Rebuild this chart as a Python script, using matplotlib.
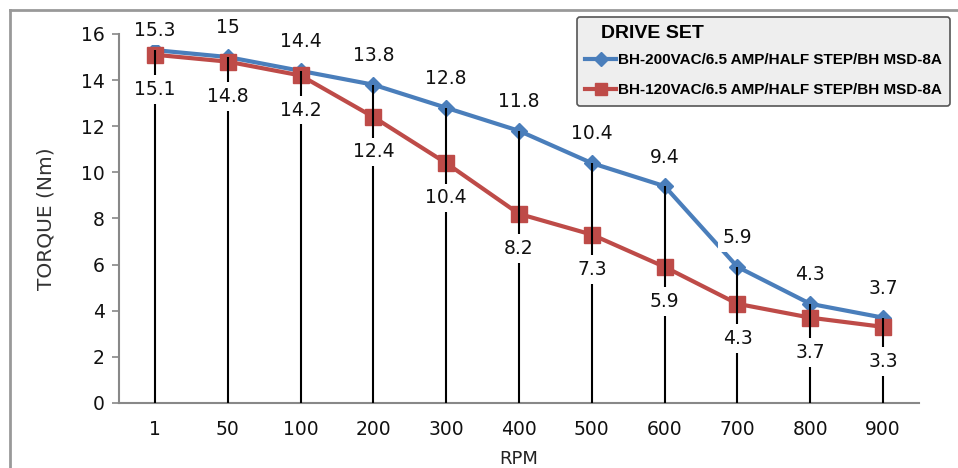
import numpy as np
import matplotlib.pyplot as plt
from matplotlib.lines import Line2D

rpm = ['1', '50', '100', '200', '300', '400', '500', '600', '700', '800', '900']
torque_200vac = [15.3, 15, 14.4, 13.8, 12.8, 11.8, 10.4, 9.4, 5.9, 4.3, 3.7]
torque_120vac = [15.1, 14.8, 14.2, 12.4, 10.4, 8.2, 7.3, 5.9, 4.3, 3.7, 3.3]
name_200 = 'BH-200VAC/6.5 AMP/HALF STEP/BH MSD-8A'
name_120 = 'BH-120VAC/6.5 AMP/HALF STEP/BH MSD-8A'

blue = '#4A7EBB'
red = '#BE4B48'

fig = plt.figure(figsize=(9.58, 4.68), dpi=100)
ax = fig.add_axes([0.1238, 0.1389, 0.836, 0.7885])

x = np.arange(len(rpm))
top = np.maximum(torque_200vac, torque_120vac)

ax.plot(x, torque_200vac, color=blue, lw=3, marker='D', ms=8, zorder=2)
ax.plot(x, torque_120vac, color=red, lw=3, marker='s', ms=12, zorder=2.1)
ax.vlines(x, 0, top, color='black', lw=1.5, zorder=3)

box = dict(boxstyle='square,pad=0.25', fc='white', ec='none')
for i, v in enumerate(torque_200vac):
    off = 14 if i == 0 else 21
    ax.annotate('%g' % v, (x[i], v), xytext=(0, off), textcoords='offset points',
                ha='center', va='center', fontsize=13.5, color='#111111', bbox=box, zorder=4)
for i, v in enumerate(torque_120vac):
    ax.annotate('%g' % v, (x[i], v), xytext=(0, -25), textcoords='offset points',
                ha='center', va='center', fontsize=13.5, color='#111111', bbox=box, zorder=4)

ax.set_xlim(-0.5, len(rpm) - 0.5)
ax.set_ylim(0, 16)
ax.set_yticks(range(0, 17, 2))
ax.set_xticks(x)
ax.set_xticklabels(rpm)
ax.tick_params(axis='x', length=0, pad=12, labelsize=13.5, labelcolor='#111111')
ax.tick_params(axis='y', length=5, color='#888888', width=1.2, pad=5, labelsize=13.5, labelcolor='#111111')
for s in ['top', 'right']:
    ax.spines[s].set_visible(False)
for s in ['left', 'bottom']:
    ax.spines[s].set_color('#888888')
    ax.spines[s].set_linewidth(1.5)

ax.set_ylabel('TORQUE (Nm)', fontsize=14.5, color='#333333', labelpad=18)
ax.set_xlabel('RPM', fontsize=13, color='#222222', labelpad=8)

handles = [Line2D([], [], color=blue, lw=3, marker='D', ms=7),
           Line2D([], [], color=red, lw=3, marker='s', ms=9)]
leg = fig.legend(handles, [name_200, name_120], loc='upper left',
                 bbox_to_anchor=(577 / 958, 1 - 17 / 468), borderaxespad=0,
                 title='DRIVE SET', alignment='left', handlelength=2.0,
                 handletextpad=0.15, borderpad=0.55, labelspacing=1.05, fancybox=True,
                 prop={'family': 'Liberation Sans', 'weight': 'bold', 'size': 11},
                 title_fontproperties={'family': 'Liberation Sans', 'weight': 'bold', 'size': 14})
leg.get_frame().set_facecolor('#EEEEEE')
leg.get_frame().set_edgecolor('#555555')
leg.get_frame().set_linewidth(1.2)
leg.get_frame().set_alpha(1)
leg.get_title().set_position((16, 0))
leg._legend_box.sep = 8
# extra room under the entries, like the original box
leg._legend_box.pad = 6

# outer chart border
fig.add_artist(Line2D([10 / 958, 10 / 958], [0, 1 - 10 / 468], color='#999999', lw=2))
fig.add_artist(Line2D([10 / 958, 1], [1 - 10 / 468, 1 - 10 / 468], color='#999999', lw=2))

fig.savefig('out.png', dpi=100)
